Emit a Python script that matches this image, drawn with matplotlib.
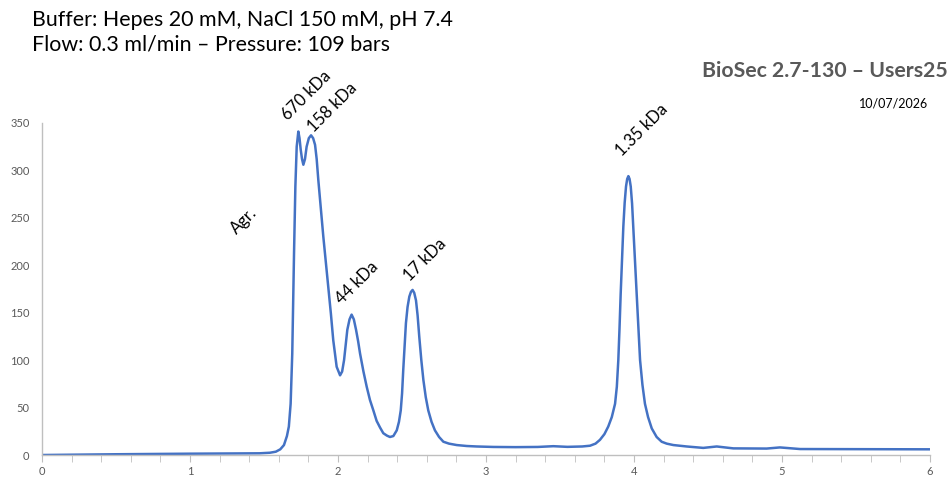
import matplotlib
matplotlib.use("Agg")
import matplotlib.pyplot as plt
from matplotlib.ticker import MultipleLocator

plt.rcParams['font.family'] = ['Lato', 'DejaVu Sans']

# chromatogram (elution volume, absorbance)
volume = [
    0.0, 0.5, 1.0, 1.3, 1.47, 1.54, 1.58, 1.61, 1.635, 1.655,
    1.668, 1.68, 1.691, 1.703, 1.712, 1.721, 1.732, 1.740, 1.748, 1.757,
    1.766, 1.777, 1.788, 1.803, 1.818, 1.832, 1.845, 1.856, 1.867, 1.884,
    1.901, 1.918, 1.935, 1.952, 1.968, 1.991, 2.014, 2.028, 2.041, 2.052,
    2.063, 2.078, 2.092, 2.107, 2.122, 2.136, 2.149, 2.172, 2.194, 2.216,
    2.239, 2.261, 2.284, 2.306, 2.330, 2.351, 2.374, 2.397, 2.412, 2.424,
    2.433, 2.441, 2.450, 2.459, 2.470, 2.482, 2.493, 2.504, 2.515, 2.527,
    2.538, 2.549, 2.563, 2.577, 2.593, 2.610, 2.632, 2.655, 2.683, 2.712,
    2.750, 2.802, 2.870, 2.937, 3.05, 3.2, 3.35, 3.455, 3.55, 3.65,
    3.703, 3.740, 3.770, 3.800, 3.826, 3.850, 3.872, 3.884, 3.894, 3.902,
    3.910, 3.919, 3.928, 3.937, 3.946, 3.954, 3.962, 3.970, 3.978, 3.987,
    3.995, 4.007, 4.018, 4.030, 4.041, 4.057, 4.074, 4.095, 4.120, 4.153,
    4.187, 4.221, 4.266, 4.356, 4.468, 4.559, 4.671, 4.896, 4.986, 5.122,
    5.5, 6.0,
]
absorbance = [
    0, 0.8, 1.4, 1.6, 1.8, 2.4, 3.5, 6, 10.5, 20,
    30, 54, 107, 213, 283, 325, 341, 334, 322, 312,
    306, 312, 325, 334, 337, 334, 327, 312, 290, 260,
    230, 203, 177, 149, 121, 93, 84, 88, 100, 116,
    132, 143, 148, 143, 132, 120, 107, 88, 72, 58,
    47, 36, 29, 23, 20.5, 19, 20, 26, 35, 47,
    65, 90, 115, 139, 156, 167, 172, 174, 171, 163,
    147, 125, 100, 79, 61, 47, 35, 26, 19, 14,
    12, 10.5, 9.5, 9, 8.5, 8.3, 8.5, 9.3, 8.6, 9,
    9.8, 12, 16, 22, 30, 40, 54, 72, 100, 133,
    170, 206, 241, 266, 283, 291, 294, 291, 283, 265,
    241, 205, 170, 133, 100, 74, 54, 40, 28, 19,
    14, 12, 10.5, 9, 7.5, 9, 7, 6.8, 8, 6.3,
    6.2, 6,
]

peak_labels = ['Agr.', '670 kDa', '158 kDa', '44 kDa', '17 kDa', '1.35 kDa']
label_x = [1.365, 1.79, 1.96, 2.13, 2.59, 4.05]
label_y = [247, 379, 366, 181, 206, 343]

grey = '#595959'
axis_grey = '#bfbfbf'

fig = plt.figure(figsize=(9.52, 4.9), dpi=100)
ax = fig.add_axes([0.0441, 0.0714, 0.9328, 0.6776])

ax.plot(volume, absorbance, color='#4472C4', lw=1.8)

for txt, x, y in zip(peak_labels, label_x, label_y):
    ax.text(x, y, txt, rotation=45, ha='center', va='center',
            fontsize=12, color='black', clip_on=False)

ax.set_xlim(0, 6)
ax.set_ylim(0, 350)
ax.xaxis.set_major_locator(MultipleLocator(1))
ax.xaxis.set_minor_locator(MultipleLocator(0.2))
ax.yaxis.set_major_locator(MultipleLocator(50))

for s in ['top', 'right']:
    ax.spines[s].set_visible(False)
for s in ['left', 'bottom']:
    ax.spines[s].set_color(axis_grey)
    ax.spines[s].set_linewidth(1)

ax.tick_params(axis='x', which='both', length=5, color=axis_grey,
               labelsize=8, labelcolor=grey, pad=3)
ax.tick_params(axis='y', length=0, labelsize=8, labelcolor=grey, pad=9)

fig.text(0.0336, 0.947, 'Buffer: Hepes 20 mM, NaCl 150 mM, pH 7.4',
         fontsize=15.4, va='baseline', ha='left')
fig.text(0.0336, 0.896, 'Flow: 0.3 ml/min \u2013 Pressure: 109 bars',
         fontsize=15.4, va='baseline', ha='left')
fig.text(0.9958, 0.8435, 'BioSec 2.7-130 \u2013 Users25', fontsize=15.3,
         fontweight='bold', color=grey, va='baseline', ha='right')
fig.text(0.975, 0.7796, '10/07/2026', fontsize=9, va='baseline', ha='right')

fig.savefig('out.png', dpi=100)
